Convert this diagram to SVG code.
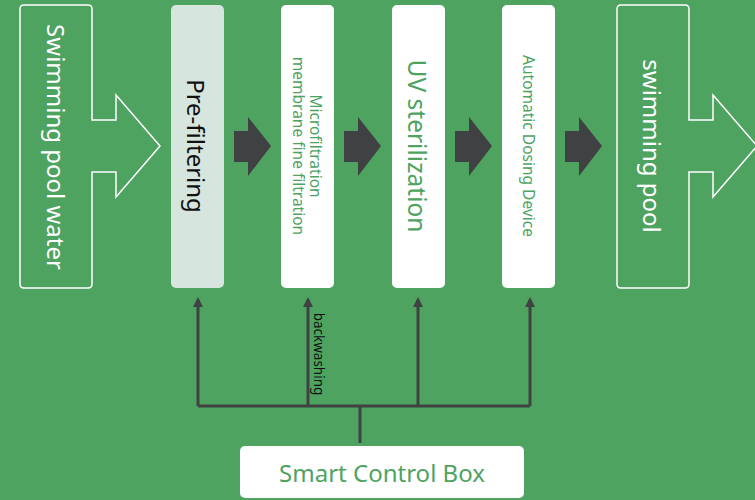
<svg xmlns="http://www.w3.org/2000/svg" width="755" height="500" viewBox="0 0 755 500">
<defs>
<style>
.bg{fill:#4ea361}
.outline{fill:none;stroke:#ffffff;stroke-width:1.5;stroke-linejoin:miter}
.box{fill:#ffffff}
.pre{fill:#d6e6df}
.dark{fill:#404142}
.ln{stroke:#404142;stroke-width:3;fill:none}
.t{font-family:"Noto Sans","Open Sans","Liberation Sans",sans-serif;text-anchor:middle;dominant-baseline:central}
.w{fill:#ffffff}
.g{fill:#4ea361}
.k{fill:#111111}
</style>
<marker id="ah" viewBox="0 0 10 10" refX="7" refY="5" markerWidth="10" markerHeight="10" markerUnits="userSpaceOnUse" orient="auto">
<path d="M0,0 L10,5 L0,10 Z" fill="#404142"/>
</marker>
</defs>
<rect class="bg" x="0" y="0" width="755" height="500"/>

<g id="source">
<path class="outline" d="M24,5 H88 Q92,5 92,9 V120 H116 V95 L160,146 L116,197 V172 H92 V284 Q92,288 88,288 H24 Q20,288 20,284 V9 Q20,5 24,5 Z"/>
<text class="t w" font-size="24" transform="translate(56,147) rotate(90)">Swimming pool water</text>
</g>

<g id="prefiltering">
<rect class="pre" x="171" y="5" width="53" height="283" rx="5"/>
<text class="t k" font-size="24" transform="translate(196,146) rotate(90)">Pre-filtering</text>
</g>

<g id="microfiltration">
<rect class="box" x="281" y="5" width="53" height="283" rx="5"/>
<text class="t g" font-size="15.5" transform="translate(307,146) rotate(90)"><tspan x="0" y="-8.5">Microfiltration</tspan><tspan x="0" y="8">membrane fine filtration</tspan></text>
</g>

<g id="uv">
<rect class="box" x="392" y="5" width="53" height="283" rx="5"/>
<text class="t g" font-size="24.5" transform="translate(417,146) rotate(90)">UV sterilization</text>
</g>

<g id="dosing">
<rect class="box" x="502" y="5" width="53" height="283" rx="5"/>
<text class="t g" font-size="15.5" transform="translate(529,146) rotate(90)">Automatic Dosing Device</text>
</g>

<g id="pool">
<path class="outline" d="M621,5 H685 Q689,5 689,9 V120 H713 V95 L757,146 L713,197 V172 H689 V284 Q689,288 685,288 H621 Q617,288 617,284 V9 Q617,5 621,5 Z"/>
<text class="t w" font-size="24" transform="translate(652,146) rotate(90)">swimming pool</text>
</g>

<g id="flow-arrows">
<path class="dark" d="M234,131 H248 V117 L271,146 L248,176 V162 H234 Z"/>
<path class="dark" d="M344,131 H358 V117 L381,146 L358,176 V162 H344 Z"/>
<path class="dark" d="M455,131 H469 V117 L492,146 L469,176 V162 H455 Z"/>
<path class="dark" d="M565,131 H579 V117 L602,146 L579,176 V162 H565 Z"/>
</g>

<g id="connectors">
<line class="ln" x1="198" y1="406" x2="198" y2="300" marker-end="url(#ah)"/>
<line class="ln" x1="308" y1="406" x2="308" y2="300" marker-end="url(#ah)"/>
<line class="ln" x1="418" y1="406" x2="418" y2="300" marker-end="url(#ah)"/>
<line class="ln" x1="530" y1="406" x2="530" y2="300" marker-end="url(#ah)"/>
<line class="ln" x1="198" y1="406" x2="530" y2="406"/>
<line class="ln" x1="360" y1="406" x2="360" y2="443"/>
<text class="t k" font-size="13.5" transform="translate(319,354) rotate(90)">backwashing</text>
</g>

<g id="control">
<rect class="box" x="240" y="446" width="284" height="52" rx="5"/>
<text class="t g" font-size="24" x="382" y="472">Smart Control Box</text>
</g>
</svg>
